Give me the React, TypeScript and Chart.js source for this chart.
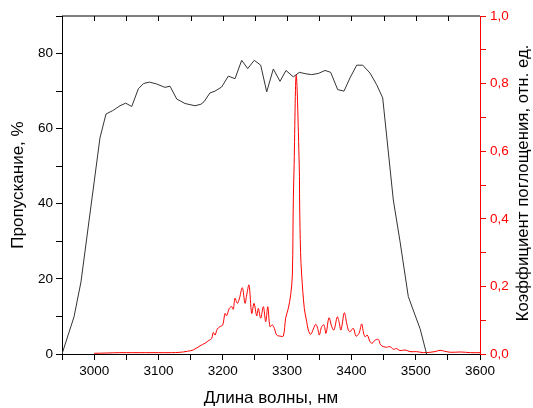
import { useEffect, useRef } from 'react';
import { Chart, registerables } from 'chart.js';

Chart.register(...registerables);

// Transmission (left axis, %)
const transWavelength = [
  2950, 2968.7, 2979.5, 3009, 3018.4, 3028.8, 3040.2, 3049, 3058.4, 3068.7,
  3076.5, 3085.8, 3097.2, 3110, 3118, 3128.4, 3141.3, 3156.8, 3166, 3171,
  3180, 3187.9, 3198.3, 3208.6, 3219, 3229.4, 3238.8, 3249, 3259, 3268.3,
  3278.6, 3289, 3298.3, 3309.7, 3319, 3329.4, 3338.3, 3348.6, 3359, 3367.8,
  3378.7, 3388.5, 3397.8, 3408.2, 3417.6, 3429, 3439.3, 3448.7, 3465.2, 3475.6,
  3488.5, 3498.9, 3506.7, 3517,
];
const transValue = [
  0, 9.9, 19.2, 57.5, 63.9, 64.8, 66.1, 66.8, 65.9, 70.6,
  72, 72.4, 71.9, 71, 71.3, 67.9, 66.7, 66.1, 66.5, 67.2,
  69.5, 70, 71.1, 74, 73.3, 78.2, 76, 78.2, 76.9, 69.8,
  75.9, 72.6, 75.5, 73.8, 75, 74.6, 74.4, 74.7, 75.5, 75,
  70.4, 70, 73.5, 76.9, 76.9, 74.8, 71.7, 68.2, 41, 30,
  15.3, 10.4, 6.8, 0,
];

// Absorption coefficient (right axis, rel. units)
const absWavelength = [
  3000, 3020, 3040, 3060, 3080, 3100, 3120, 3133.5, 3145, 3154.2,
  3164.6, 3172.4, 3179.1, 3182.8, 3185.3, 3188, 3191.5, 3195.7, 3199.9, 3203.5,
  3206, 3210.2, 3213.9, 3216.4, 3219, 3222.6, 3225.7, 3230.4, 3234.6, 3237.2,
  3240.8, 3245, 3248.6, 3252.8, 3255.3, 3259, 3263.1, 3266.8, 3270, 3273.4,
  3277, 3280.2, 3283.9, 3289, 3294.1, 3297.8, 3301.9, 3305.6, 3308.2, 3309.7,
  3310.8, 3314.2, 3319, 3319.5, 3321, 3322.7, 3326.8, 3330.5, 3333, 3336.7,
  3340.8, 3344.5, 3347.6, 3350.1, 3353.8, 3357.4, 3360.5, 3365.2, 3369.4, 3372.9,
  3378.1, 3380.7, 3383.8, 3389, 3392.7, 3395.2, 3397.8, 3403, 3407.2, 3411.8,
  3416, 3418.5, 3421.2, 3424.7, 3429, 3432.5, 3436.7, 3441.8, 3445.5, 3449.6,
  3454.9, 3460, 3465.2, 3470.4, 3475.6, 3483.4, 3491.2, 3501.5, 3511.8, 3522.2,
  3530, 3538, 3545, 3555, 3570, 3585, 3600,
];
const absValue = [
  0.002, 0.003, 0.004, 0.004, 0.004, 0.004, 0.004, 0.005, 0.008, 0.012,
  0.024, 0.032, 0.041, 0.046, 0.064, 0.056, 0.074, 0.081, 0.086, 0.12,
  0.113, 0.135, 0.14, 0.132, 0.165, 0.15, 0.163, 0.196, 0.15, 0.175,
  0.204, 0.12, 0.15, 0.113, 0.135, 0.106, 0.14, 0.096, 0.14, 0.081,
  0.086, 0.076, 0.056, 0.053, 0.053, 0.106, 0.135, 0.175, 0.234, 0.456,
  0.544, 0.825, 0.55, 0.45, 0.3, 0.234, 0.135, 0.096, 0.071, 0.058,
  0.074, 0.088, 0.076, 0.056, 0.081, 0.086, 0.061, 0.107, 0.081, 0.071,
  0.11, 0.096, 0.071, 0.122, 0.091, 0.071, 0.066, 0.076, 0.053, 0.061,
  0.089, 0.066, 0.051, 0.056, 0.036, 0.032, 0.041, 0.043, 0.027, 0.022,
  0.02, 0.022, 0.014, 0.016, 0.01, 0.012, 0.007, 0.007, 0.004, 0.005,
  0.007, 0.011, 0.008, 0.005, 0.006, 0.004, 0.004,
];

const xTitle = 'Длина волны, нм';
const yLeftTitle = 'Пропускание, %';
const yRightTitle = 'Коэффициент поглощения, отн. ед.';

const FONT = 'Liberation Sans, Arial, sans-serif';
const RED = '#ff0000';

const framePlugin = {
  id: 'frame',
  afterDraw(chart: any) {
    const { ctx, chartArea } = chart;
    const x = chart.scales.x;
    ctx.save();
    // top border
    ctx.strokeStyle = '#000';
    ctx.lineWidth = 1;
    ctx.beginPath();
    ctx.moveTo(chartArea.left, chartArea.top);
    ctx.lineTo(chartArea.right, chartArea.top);
    ctx.stroke();
    // inward ticks on top border
    x.ticks.forEach((t: any) => {
      const px = Math.round(x.getPixelForValue(t.value)) + 0.5;
      if (px < chartArea.left + 2 || px > chartArea.right - 2) return;
      ctx.beginPath();
      ctx.moveTo(px, chartArea.top);
      ctx.lineTo(px, chartArea.top + 5);
      ctx.stroke();
    });
    // titles
    ctx.fillStyle = '#000';
    ctx.textAlign = 'center';
    ctx.textBaseline = 'middle';
    const midX = (chartArea.left + chartArea.right) / 2;
    const midY = (chartArea.top + chartArea.bottom) / 2;
    ctx.font = `17px ${FONT}`;
    ctx.fillText(xTitle, midX, 398);
    ctx.save();
    ctx.translate(18, midY);
    ctx.rotate(-Math.PI / 2);
    ctx.fillText(yLeftTitle, 0, 0);
    ctx.restore();
    ctx.font = `16.8px ${FONT}`;
    ctx.save();
    ctx.translate(523, midY - 2);
    ctx.rotate(-Math.PI / 2);
    ctx.fillText(yRightTitle, 0, 0);
    ctx.restore();
    ctx.restore();
  },
};

export default function App() {
  const ref = useRef<HTMLCanvasElement>(null);
  useEffect(() => {
    const tickFont = { family: FONT, size: 13.5 };
    const chart = new Chart(ref.current!, {
      type: 'line',
      data: {
        datasets: [
          {
            data: transWavelength.map((w, i) => ({ x: w, y: transValue[i] })),
            borderColor: '#333',
            borderWidth: 1,
            pointRadius: 0,
            tension: 0,
            yAxisID: 'y',
          },
          {
            data: absWavelength.map((w, i) => ({ x: w, y: absValue[i] })),
            borderColor: RED,
            borderWidth: 1,
            pointRadius: 0,
            tension: 0.35,
            yAxisID: 'y1',
          },
        ],
      },
      options: {
        responsive: false,
        animation: false,
        layout: { padding: { top: 16, left: 0, right: 0, bottom: 0 } },
        plugins: { legend: { display: false }, tooltip: { enabled: false } },
        scales: {
          x: {
            type: 'linear',
            min: 2950,
            max: 3600,
            ticks: {
              stepSize: 50,
              autoSkip: false,
              maxRotation: 0,
              color: '#000',
              font: tickFont,
              padding: 3,
              callback: (v: any) => (Math.round(v) % 100 === 0 ? String(Math.round(v)) : ''),
            },
            grid: { drawOnChartArea: false, tickLength: 6, color: '#000' },
            border: { color: '#000', width: 1 },
            afterFit: (s: any) => {
              s.height = 54;
            },
          },
          y: {
            type: 'linear',
            position: 'left',
            min: 0,
            max: 90,
            ticks: {
              stepSize: 10,
              autoSkip: false,
              color: '#000',
              font: tickFont,
              padding: 3,
              callback: (v: any) => (Math.round(v) % 20 === 0 ? String(Math.round(v)) : ''),
            },
            grid: { drawOnChartArea: false, tickLength: 6, color: '#000' },
            border: { color: '#000', width: 1 },
            afterFit: (s: any) => {
              s.width = 62;
            },
          },
          y1: {
            type: 'linear',
            position: 'right',
            min: 0,
            max: 1,
            ticks: {
              stepSize: 0.1,
              autoSkip: false,
              color: RED,
              font: tickFont,
              padding: 4,
              callback: (v: any) => {
                const r = Math.round(Number(v) * 10);
                return r % 2 === 0 ? (r / 10).toFixed(1).replace('.', ',') : '';
              },
            },
            grid: { drawOnChartArea: false, tickLength: 6, color: RED },
            border: { color: RED, width: 1 },
            afterFit: (s: any) => {
              s.width = 53;
            },
          },
        },
      },
      plugins: [framePlugin],
    });
    return () => chart.destroy();
  }, []);
  return (
    <div style={{ position: 'fixed', left: 0, top: 0, width: 533, height: 408, background: '#fff' }}>
      <canvas ref={ref} width={533} height={408} />
    </div>
  );
}
